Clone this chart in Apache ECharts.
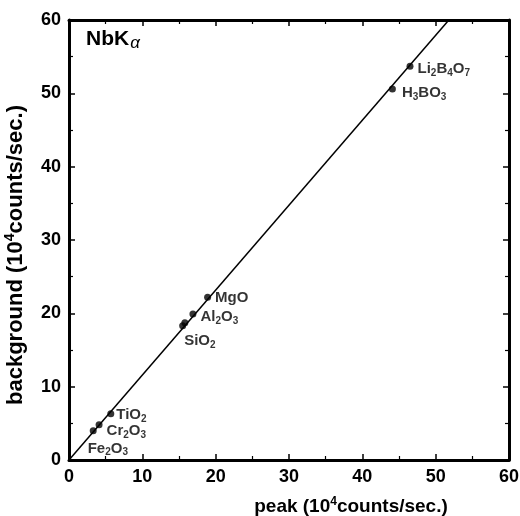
<!DOCTYPE html>
<html><head><meta charset="utf-8">
<script src="https://cdn.jsdelivr.net/npm/echarts@6/dist/echarts.min.js"></script>
<style>html,body{margin:0;padding:0;background:#fff}#c{width:520px;height:516px}</style>
</head><body><div id="c"></div>
<script>
// ---- data ----
const compounds = ['Li2B4O7','H3BO3','MgO','Al2O3','SiO2a','SiO2','TiO2','Cr2O3','Fe2O3'];
const labelsRich = ['Li{s|2}B{s|4}O{s|7}','H{s|3}BO{s|3}','MgO','Al{s|2}O{s|3}','','SiO{s|2}','TiO{s|2}','Cr{s|2}O{s|3}','Fe{s|2}O{s|3}'];
const peak = [46.5, 44.1, 18.9, 16.9, 15.8, 15.5, 5.7, 4.1, 3.3];
const background = [53.7, 50.6, 22.2, 19.9, 18.7, 18.3, 6.3, 4.8, 4.0];
const fitPeak = [0, 51.8];
const fitBackground = [0, 60];
const xTicks = [0, 10, 20, 30, 40, 50, 60];
const yTicks = [0, 10, 20, 30, 40, 50, 60];

// ---- layout (label offsets, styling) ----
const labelOffsets = {
  'Li2B4O7':[0,3], 'H3BO3':[2,4], 'MgO':[0,1], 'Al2O3':[0,3], 'SiO2a':[0,0],
  'SiO2':[-6,15], 'TiO2':[-2,1], 'Cr2O3':[0,6], 'Fe2O3':[-13,18]
};
const font = '"Liberation Sans", Arial, Helvetica, sans-serif';

const pts = compounds.map((n, i) => ({
  value: [peak[i], background[i]],
  label: {
    show: labelsRich[i] !== '',
    formatter: labelsRich[i],
    position: 'right',
    distance: 4,
    offset: labelOffsets[n],
    color: '#000',
    fontFamily: font,
    fontWeight: 'bold',
    fontSize: 15,
    rich: {
      s: {fontSize: 10, fontWeight: 'bold', fontFamily: font, color: '#000', padding: [8, 0, 0, 0]}
    }
  }
}));

const axisCommon = {
  min: 0, max: 60, interval: 10,
  axisLine: {show: true, onZero: false, lineStyle: {color: '#000', width: 3}},
  axisTick: {show: true, inside: true, length: 6, lineStyle: {color: '#000', width: 1.5}},
  minorTick: {show: true, splitNumber: 2, length: 4, lineStyle: {color: '#000', width: 1.2}},
  splitLine: {show: false},
  minorSplitLine: {show: false}
};
const tickLabel = {color: '#000', fontFamily: font, fontWeight: 'bold', fontSize: 18};
const nameStyle = {
  color: '#000', fontFamily: font, fontWeight: 'bold', fontSize: 19,
  rich: {sup: {fontFamily: font, fontWeight: 'bold', fontSize: 12, color: '#000', padding: [0, 0, 10, 0]}}
};
const yNameStyle = {
  color: '#000', fontFamily: font, fontWeight: 'bold', fontSize: 22,
  rich: {sup: {fontFamily: font, fontWeight: 'bold', fontSize: 14, color: '#000', padding: [0, 0, 12, 0]}}
};

const chart = echarts.init(document.getElementById('c'), null, {renderer: 'canvas'});
chart.setOption({
  animation: false,
  backgroundColor: '#fff',
  grid: {left: 69, right: 11, top: 20, bottom: 56, containLabel: false, outerBoundsMode: 'none'},
  graphic: [{
    type: 'text', left: 86, top: 29,
    style: {
      text: 'NbK{a|α}',
      rich: {a: {fontFamily: font, fontStyle: 'italic', fontSize: 17, color: '#000', padding: [8, 0, 0, 1]}},
      fontFamily: font, fontWeight: 'bold', fontSize: 21, fill: '#000'
    }
  }],
  xAxis: [
    Object.assign({}, axisCommon, {
      type: 'value', position: 'bottom',
      name: 'peak (10{sup|4}counts/sec.)', nameLocation: 'middle', nameGap: 36,
      nameTextStyle: Object.assign({}, nameStyle, {padding: [0, 0, 0, 124]}),
      axisLabel: Object.assign({}, tickLabel, {margin: 8, formatter: v => xTicks.includes(v) ? String(v) : ''})
    }),
    Object.assign({}, axisCommon, {
      type: 'value', position: 'top', axisLabel: {show: false}
    })
  ],
  yAxis: [
    Object.assign({}, axisCommon, {
      type: 'value', position: 'left',
      name: 'background (10{sup|4}counts/sec.)', nameLocation: 'middle', nameGap: 40,
      nameTextStyle: Object.assign({}, yNameStyle, {padding: [0, 30, 0, 0]}),
      axisLabel: Object.assign({}, tickLabel, {margin: 8, formatter: v => yTicks.includes(v) ? String(v) : ''})
    }),
    Object.assign({}, axisCommon, {
      type: 'value', position: 'right', axisLabel: {show: false}
    })
  ],
  series: [
    {
      type: 'line', xAxisIndex: 0, yAxisIndex: 0,
      data: fitPeak.map((x, i) => [x, fitBackground[i]]),
      symbol: 'none', lineStyle: {color: '#000', width: 1.5}, silent: true, z: 2
    },
    {
      type: 'scatter', xAxisIndex: 0, yAxisIndex: 0,
      data: pts, symbol: 'circle', symbolSize: 7,
      itemStyle: {color: '#000'}, z: 3
    }
  ]
});
</script></body></html>
